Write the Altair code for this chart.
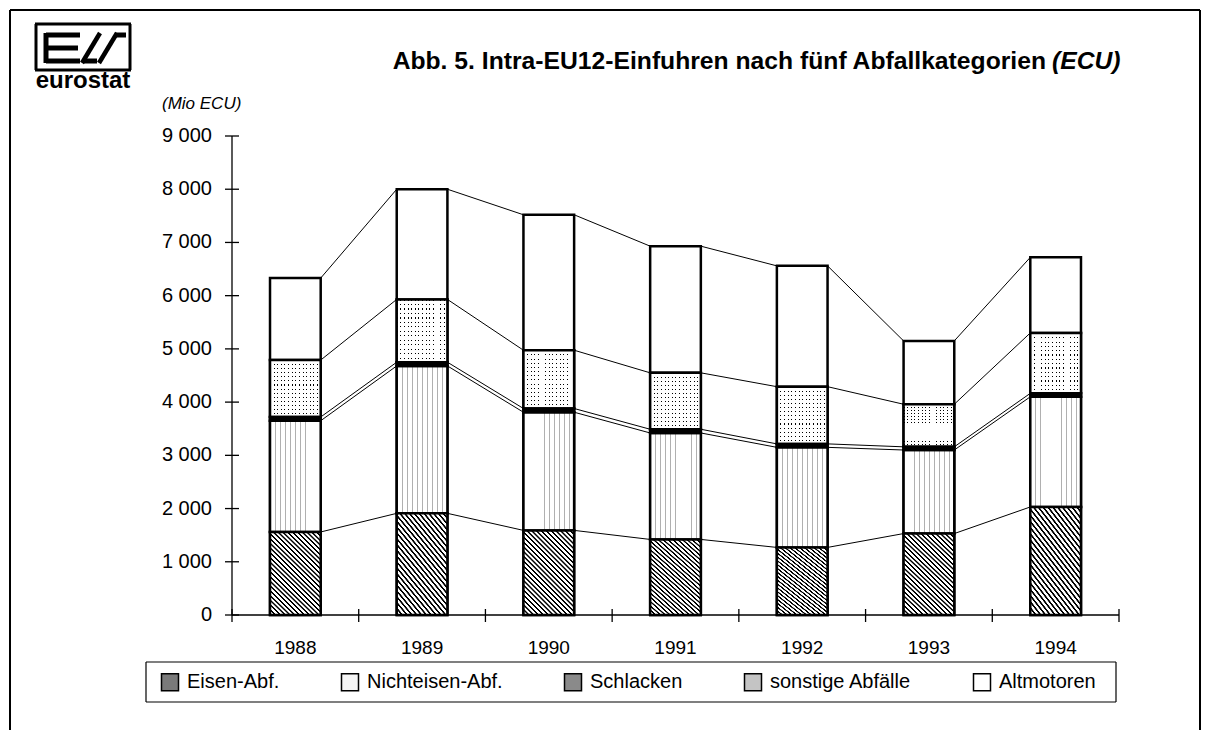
import altair as alt
import pandas as pd

# ---------------- data (Mio ECU) ----------------
years = [1988, 1989, 1990, 1991, 1992, 1993, 1994]
categories = ["Eisen-Abf.", "Nichteisen-Abf.", "Schlacken", "sonstige Abfälle", "Altmotoren"]
eisen = [1560, 1910, 1590, 1420, 1270, 1530, 2030]
nichteisen = [2090, 2770, 2220, 2000, 1880, 1570, 2070]
schlacken = [70, 70, 70, 70, 65, 60, 65]
sonstige = [1070, 1180, 1095, 1060, 1075, 800, 1135]
altmotoren = [1540, 2070, 2545, 2380, 2270, 1190, 1420]
y_ticks = [0, 1000, 2000, 3000, 4000, 5000, 6000, 7000, 8000, 9000]
x_bounds = [1987.5, 1988.5, 1989.5, 1990.5, 1991.5, 1992.5, 1993.5, 1994.5]

series = [eisen, nichteisen, schlacken, sonstige, altmotoren]
HALF = 0.2  # half bar width (in years)
W, H = 887, 479
FONT = "Liberation Sans"
BAR_STROKE = 2.5

rows, tops = [], []
cum = [0] * len(years)
for cat, vals in zip(categories, series):
    for i, yr in enumerate(years):
        rows.append(dict(year=yr, cat=cat, y0=cum[i], y1=cum[i] + vals[i],
                         xl=yr - HALF, xr=yr + HALF))
    cum = [c + v for c, v in zip(cum, vals)]
    tops.append(list(cum))
seg = pd.DataFrame(rows)

links = []
for level in tops:
    for i in range(len(years) - 1):
        links.append(dict(xa=years[i] + HALF, xb=years[i + 1] - HALF,
                          ya=level[i], yb=level[i + 1]))
links = pd.DataFrame(links)

ytab = pd.DataFrame({"v": y_ticks, "lab": [f"{v:,}".replace(",", " ") for v in y_ticks]})
xtab = pd.DataFrame({"b": x_bounds})
yrtab = pd.DataFrame({"year": years, "lab": [str(y) for y in years]})


def stripes(n, on, off, frac, x1, y1, x2, y2, soft=0.0):
    stops = []
    for i in range(n):
        a, b, c = i / n, (i + frac) / n, (i + 1) / n
        s = soft / n
        stops += [{"offset": a, "color": on}, {"offset": b, "color": on},
                  {"offset": min(b + s, c), "color": off}, {"offset": max(c - s, b + s), "color": off}]
    stops.append({"offset": 1, "color": on})
    return {"gradient": "linear", "x1": x1, "y1": y1, "x2": x2, "y2": y2, "stops": stops}


# diagonal "\" hatching at roughly 45 degrees for a 51 x 85 px box
g_diag = stripes(28, "#000000", "#ffffff", 0.3, 0, 1, 0.706, -0.176, soft=0.12)
g_vert = stripes(10, "#b0b0b0", "#ffffff", 0.16, 0, 0, 1, 0)
g_hrow = stripes(14, "#000000", "#ffffff", 0.26, 0, 0, 0, 1)
g_vmask = stripes(14, "rgba(255,255,255,0)", "#ffffff", 0.26, 0, 0, 1, 0)

xs = alt.Scale(domain=[1987.5, 1994.5], nice=False, zero=False)
ys = alt.Scale(domain=[0, 9000], nice=False, zero=True)

legend = alt.Legend(
    orient="none", legendX=-72, legendY=536, direction="horizontal", title=None,
    symbolType="square", symbolSize=289, symbolStrokeColor="black", symbolStrokeWidth=1.5,
    symbolOpacity=1,
    labelFontSize=20, labelColor="black", labelFont=FONT, labelOffset=7,
    columnPadding=58, padding=0,
)

enc_rect = dict(
    x=alt.X("xl:Q", scale=xs, axis=None), x2="xr:Q",
    y=alt.Y("y0:Q", scale=ys, axis=None), y2="y1:Q",
)

base = alt.Chart(seg).mark_rect(stroke="black", strokeWidth=BAR_STROKE).encode(
    fill=alt.Fill("cat:N", scale=alt.Scale(domain=categories,
                                           range=["#7a7a7a", "#f5f5f5", "#8a8a8a", "#c4c4c4", "#ffffff"]),
                  legend=legend),
    **enc_rect,
)


def overlay(cat, grad, stroke=True):
    kw = dict(fill=grad)
    if stroke:
        kw.update(stroke="black", strokeWidth=BAR_STROKE)
    else:
        kw.update(strokeWidth=0)
    return alt.Chart(seg).transform_filter(alt.datum.cat == cat).mark_rect(**kw).encode(**enc_rect)


ov_eisen = overlay("Eisen-Abf.", g_diag)
ov_schl = overlay("Schlacken", "#000000")
ov_ne = overlay("Nichteisen-Abf.", g_vert)
ov_so1 = overlay("sonstige Abfälle", g_hrow, stroke=False)
ov_so2 = overlay("sonstige Abfälle", g_vmask)

link_layer = alt.Chart(links).mark_rule(color="black", strokeWidth=1).encode(
    x=alt.X("xa:Q", scale=xs, axis=None), x2="xb:Q",
    y=alt.Y("ya:Q", scale=ys, axis=None), y2="yb:Q",
)

# ---- hand-drawn axes (domain lines, crossing ticks, labels) ----
y_domain = alt.Chart(pd.DataFrame({"v": [0, 9000]})).mark_rule(color="black", strokeWidth=1.3).encode(
    y=alt.Y("min(v):Q", scale=ys, axis=None), y2="max(v):Q", x=alt.value(0))
x_domain = alt.Chart(xtab).mark_rule(color="black", strokeWidth=1.3).encode(
    x=alt.X("min(b):Q", scale=xs, axis=None), x2="max(b):Q", y=alt.value(H))
y_ticks_l = alt.Chart(ytab).mark_rule(color="black", strokeWidth=1.3).encode(
    y=alt.Y("v:Q", scale=ys, axis=None), x=alt.value(-7), x2=alt.value(7))
x_ticks_l = alt.Chart(xtab).mark_rule(color="black", strokeWidth=1.3).encode(
    x=alt.X("b:Q", scale=xs, axis=None), y=alt.value(H - 6), y2=alt.value(H + 7))
y_labels = alt.Chart(ytab).mark_text(
    fontSize=20, font=FONT, color="black", baseline="middle", align="right"
).encode(y=alt.Y("v:Q", scale=ys, axis=None), x=alt.value(-20), text="lab:N")
x_labels = alt.Chart(yrtab).mark_text(
    fontSize=19, font=FONT, color="black", baseline="middle", align="center"
).encode(x=alt.X("year:Q", scale=xs, axis=None), y=alt.value(H + 33), text="lab:N")

one = pd.DataFrame({"d": [0]})


def seg_rule(x1, y1, x2, y2, w=1.5):
    return alt.Chart(one).mark_rule(color="black", strokeWidth=w).encode(
        x=alt.value(x1), y=alt.value(y1), x2=alt.value(x2), y2=alt.value(y2))


def label(txt, x, y, size, align="left", weight="normal", style="normal"):
    return alt.Chart(one).mark_text(
        text=txt, fontSize=size, font=FONT, fontWeight=weight, fontStyle=style,
        align=align, baseline="middle", color="black"
    ).encode(x=alt.value(x), y=alt.value(y))


OX, OY = 232, 136  # page position of plot origin
def px(x):
    return x - OX
def py(y):
    return y - OY

deco = [
    # outer frame
    seg_rule(px(10), py(10), px(1200), py(10), 2),
    seg_rule(px(10), py(10), px(10), py(760), 2),
    seg_rule(px(1200), py(10), px(1200), py(760), 2),
    # legend frame
    seg_rule(px(146), py(662), px(1116), py(662), 1.2),
    seg_rule(px(146), py(702), px(1116), py(702), 1.2),
    seg_rule(px(146), py(662), px(146), py(702), 1.2),
    seg_rule(px(1116), py(662), px(1116), py(702), 1.2),
    # logo box
    seg_rule(px(35), py(24), px(131), py(24), 3),
    seg_rule(px(35), py(70), px(131), py(70), 3),
    seg_rule(px(36), py(24), px(36), py(70), 3),
    seg_rule(px(130), py(24), px(130), py(70), 3),
    # logo "E"
    seg_rule(px(46), py(33), px(46), py(63), 5),
    seg_rule(px(46), py(35), px(80), py(35), 5),
    seg_rule(px(46), py(48), px(78), py(48), 5),
    seg_rule(px(46), py(61), px(80), py(61), 5),
    # logo slashes / S
    seg_rule(px(82), py(63), px(100), py(33), 4.5),
    seg_rule(px(99), py(63), px(117), py(33), 4.5),
    seg_rule(px(115), py(35), px(126), py(35), 5),
    seg_rule(px(84), py(61), px(97), py(61), 5),
    label("eurostat", px(83), py(81), 24, align="center", weight="bold"),
    label("(Mio ECU)", px(162), py(104), 17, style="italic"),
    label("Abb. 5. Intra-EU12-Einfuhren nach fünf Abfallkategorien", px(1046), py(62), 24.7,
          align="right", weight="bold"),
    label("(ECU)", px(1052), py(62), 24.7, weight="bold", style="italic"),
]

chart = alt.layer(
    y_domain, x_domain, y_ticks_l, x_ticks_l,
    base, ov_ne, ov_so1, ov_so2, ov_eisen, ov_schl, link_layer,
    y_labels, x_labels, *deco
).properties(
    width=W, height=H,
    autosize=alt.AutoSizeParams(type="none"),
    padding={"left": OX - 8, "top": OY - 8, "right": 1195 - (OX - 8) - W, "bottom": 722 - (OY - 8) - H},
).configure(font=FONT).configure_view(strokeWidth=0, strokeOpacity=0)

chart.save("out.html", embed_options={"renderer": "svg", "actions": False})
